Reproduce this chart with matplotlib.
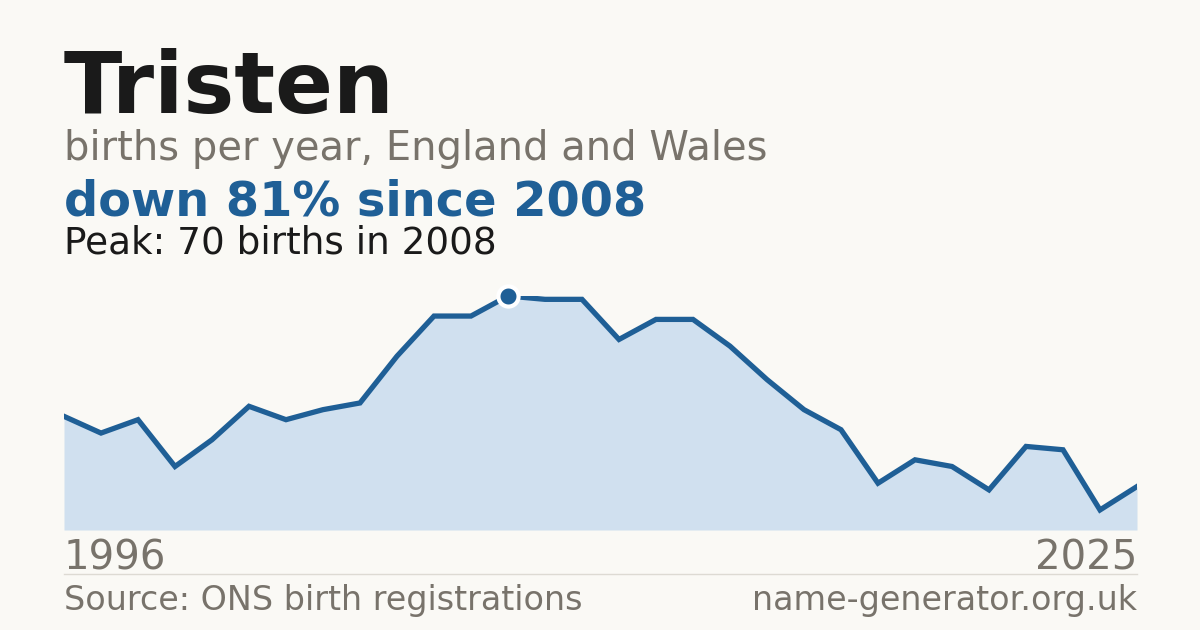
import matplotlib
matplotlib.use("Agg")
import matplotlib.pyplot as plt

years = list(range(1996, 2026))
births = [34, 29, 33, 19, 27, 37, 33, 36, 38, 52, 64, 64, 70, 69, 69, 57, 63, 63, 55, 45,
          36, 30, 14, 21, 19, 12, 25, 24, 6, 13]
title = "Tristen"
subtitle = "births per year, England and Wales"
headline = "down 81% since 2008"
peak_text = "Peak: 70 births in 2008"
source = "Source: ONS birth registrations"
site = "name-generator.org.uk"

BG = "#faf9f5"
BLUE = "#1f5f96"
FILL = "#d0e0ef"
GRAY = "#78736b"
BLACK = "#1a1a1a"

plt.rcParams['font.family'] = ['DejaVu Sans']
W, H = 1200, 630
fig = plt.figure(figsize=(12, 6.3), dpi=100, facecolor=BG)

def px(x, y):
    return x / W, 1 - y / H

# axes: x 64..1137, y 0 at 530 px, 70 at 296 px
ax = fig.add_axes([64 / W, 100 / H, (1137 - 64) / W, (530 - 296) / H])
ax.set_facecolor(BG)
ax.patch.set_alpha(0)
ax.fill_between(years, births, 0, color=FILL, linewidth=0)
ax.plot(years, births, color=BLUE, linewidth=3.8, solid_joinstyle='miter')
pi = births.index(max(births))
ax.plot([years[pi]], [births[pi]], 'o', color=BLUE, markersize=14.5,
        markeredgecolor='white', markeredgewidth=3, clip_on=False, zorder=5)
ax.set_xlim(years[0], years[-1])
ax.set_ylim(0, max(births))
ax.axis('off')

fig.text(*px(64, 113), title, fontsize=61.6, fontweight='bold', color=BLACK, va='baseline')
fig.text(*px(64, 160), subtitle, fontsize=28.8, color=GRAY, va='baseline')
fig.text(*px(64, 215), headline, fontsize=34.5, fontweight='bold', color=BLUE, va='baseline')
fig.text(*px(64, 254), peak_text, fontsize=26.9, color=BLACK, va='baseline')
fig.text(*px(64, 570), str(years[0]), fontsize=29, color=GRAY, va='baseline')
fig.text(*px(1137, 570), str(years[-1]), fontsize=29, color=GRAY, va='baseline', ha='right')
fig.add_artist(plt.Line2D([64 / W, 1137 / W], [1 - 574 / H, 1 - 574 / H], color='#dddad3', linewidth=1))
fig.text(*px(64, 610), source, fontsize=24, color=GRAY, va='baseline')
fig.text(*px(1137, 610), site, fontsize=24, color=GRAY, va='baseline', ha='right')

fig.savefig("out.png", dpi=100, facecolor=BG)
